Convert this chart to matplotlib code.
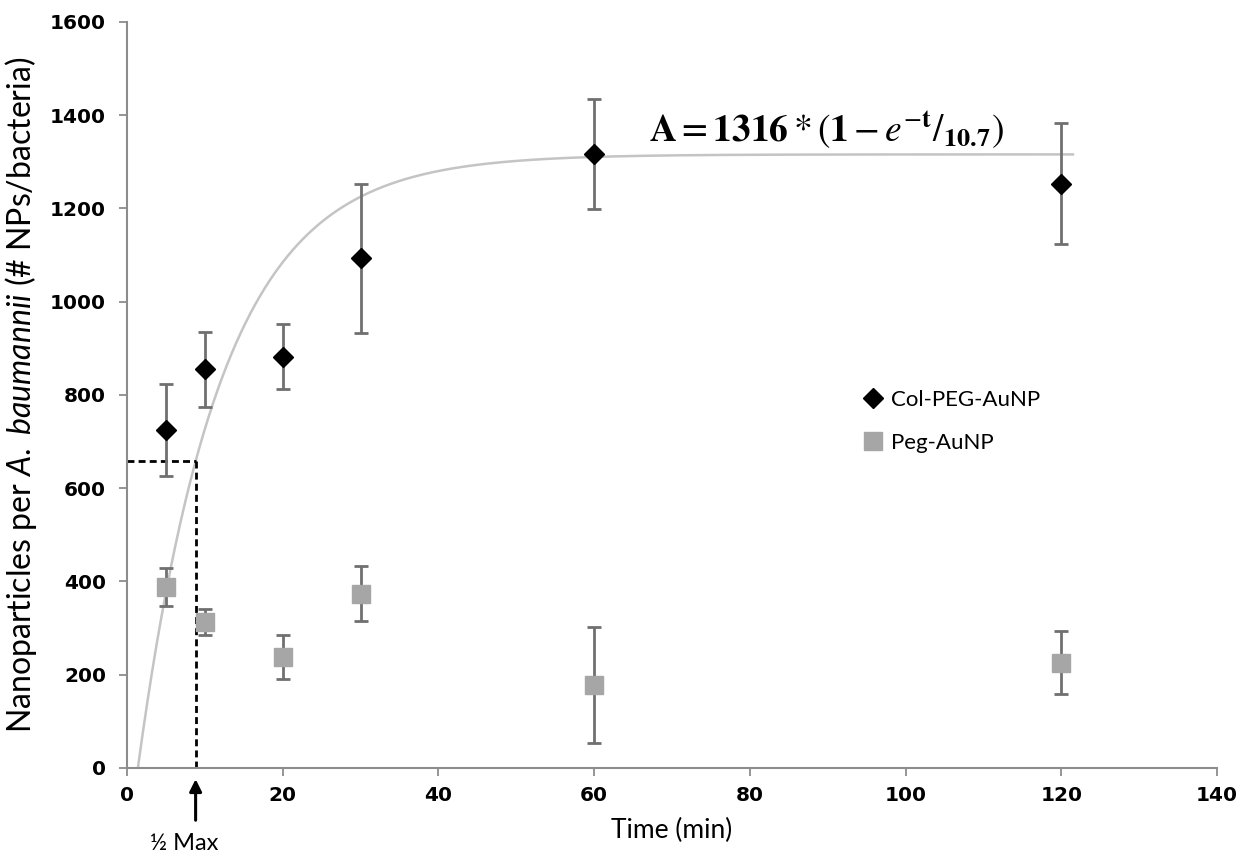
import numpy as np
import matplotlib
matplotlib.use('Agg')
import matplotlib.pyplot as plt

# data
times = [5, 10, 20, 30, 60, 120]
col_peg = [725, 855, 882, 1093, 1317, 1253]
col_peg_err = [99, 80, 70, 160, 118, 130]
peg = [388, 313, 238, 374, 178, 226]
peg_err = [41, 28, 47, 59, 124, 68]

# exponential fit shown on the chart
A_max = 1316
tau = 10.7
t_start = 1.4
t_end = 121.5

plt.rcParams['mathtext.fontset'] = 'custom'
plt.rcParams['mathtext.rm'] = 'Lato'
plt.rcParams['mathtext.it'] = 'Lato:italic'

fig = plt.figure(figsize=(12.4, 8.58), dpi=100)
ax = fig.add_axes([0.1024, 0.1049, 0.8790, 0.8695])

# fitted curve
t = np.linspace(t_start, t_end, 400)
fit = A_max * (1 - np.exp(-(t - t_start) / tau))
ax.plot(t, fit, color='#c4c4c4', lw=1.8, zorder=1)

# half max guide lines
half = A_max / 2.0
t_half = t_start + tau * np.log(2)
ax.plot([0, t_half], [half, half], color='black', ls='--', lw=2, dashes=(2.5, 1.5), zorder=2)
ax.plot([t_half, t_half], [0, half], color='black', ls='--', lw=2, dashes=(2.5, 1.5), zorder=2)

ax.errorbar(times, col_peg, yerr=col_peg_err, fmt='none', ecolor='#707070',
            elinewidth=2, capsize=5, capthick=2, zorder=3)
ax.errorbar(times, peg, yerr=peg_err, fmt='none', ecolor='#707070',
            elinewidth=2, capsize=5, capthick=2, zorder=3)
h1, = ax.plot(times, col_peg, 'D', color='black', ms=10, ls='none', zorder=5,
              label='Col-PEG-AuNP')
h2, = ax.plot(times, peg, 's', color='#a6a6a6', ms=13, ls='none', zorder=4,
              label='Peg-AuNP')

ax.text(67.0, 1343, r'$\mathbf{A} = \mathbf{1316} * \left(\mathbf{1} - e^{-\mathbf{t}}/_{\mathbf{10.7}}\right)$',
        fontsize=27, ha='left', va='baseline', math_fontfamily='stix')

# arrow under the axis
ax.annotate('', xy=(t_half, -18), xytext=(t_half, -118), xycoords='data',
            arrowprops=dict(arrowstyle='-|>', color='black', lw=2.2, mutation_scale=18),
            annotation_clip=False)
ax.text(t_half - 1.5, -162, '½ Max', fontsize=17, ha='center', va='center',
        family='Lato')

ax.set_xlim(0, 140)
ax.set_ylim(0, 1600)
ax.set_xticks(range(0, 141, 20))
ax.set_yticks(range(0, 1601, 200))

for s in ['top', 'right']:
    ax.spines[s].set_visible(False)
for s in ['left', 'bottom']:
    ax.spines[s].set_color('#8c8c8c')
    ax.spines[s].set_linewidth(1.5)
ax.tick_params(axis='both', colors='#8c8c8c', length=6, width=1.3)
ax.tick_params(axis='y', pad=9)
ax.tick_params(axis='x', pad=7)
for lab in ax.get_xticklabels() + ax.get_yticklabels():
    lab.set_color('black')
    lab.set_fontsize(14.5)
    lab.set_fontweight('bold')

ax.set_xlabel('Time (min)', fontsize=19, family='Lato', labelpad=9)
ax.set_ylabel(r'Nanoparticles per $\mathit{A.\ baumannii}$ (# NPs/bacteria)',
              fontsize=23, family='Lato', labelpad=8)

leg = ax.legend(handles=[h1, h2], loc='upper left', bbox_to_anchor=(0.695, 0.546),
                bbox_transform=fig.transFigure, frameon=False, fontsize=16,
                borderaxespad=0, borderpad=0, labelspacing=1.05, handletextpad=0.3,
                handlelength=1.0)
for txt in leg.get_texts():
    txt.set_family('Lato')

fig.savefig('out.png', dpi=100, facecolor='white')
